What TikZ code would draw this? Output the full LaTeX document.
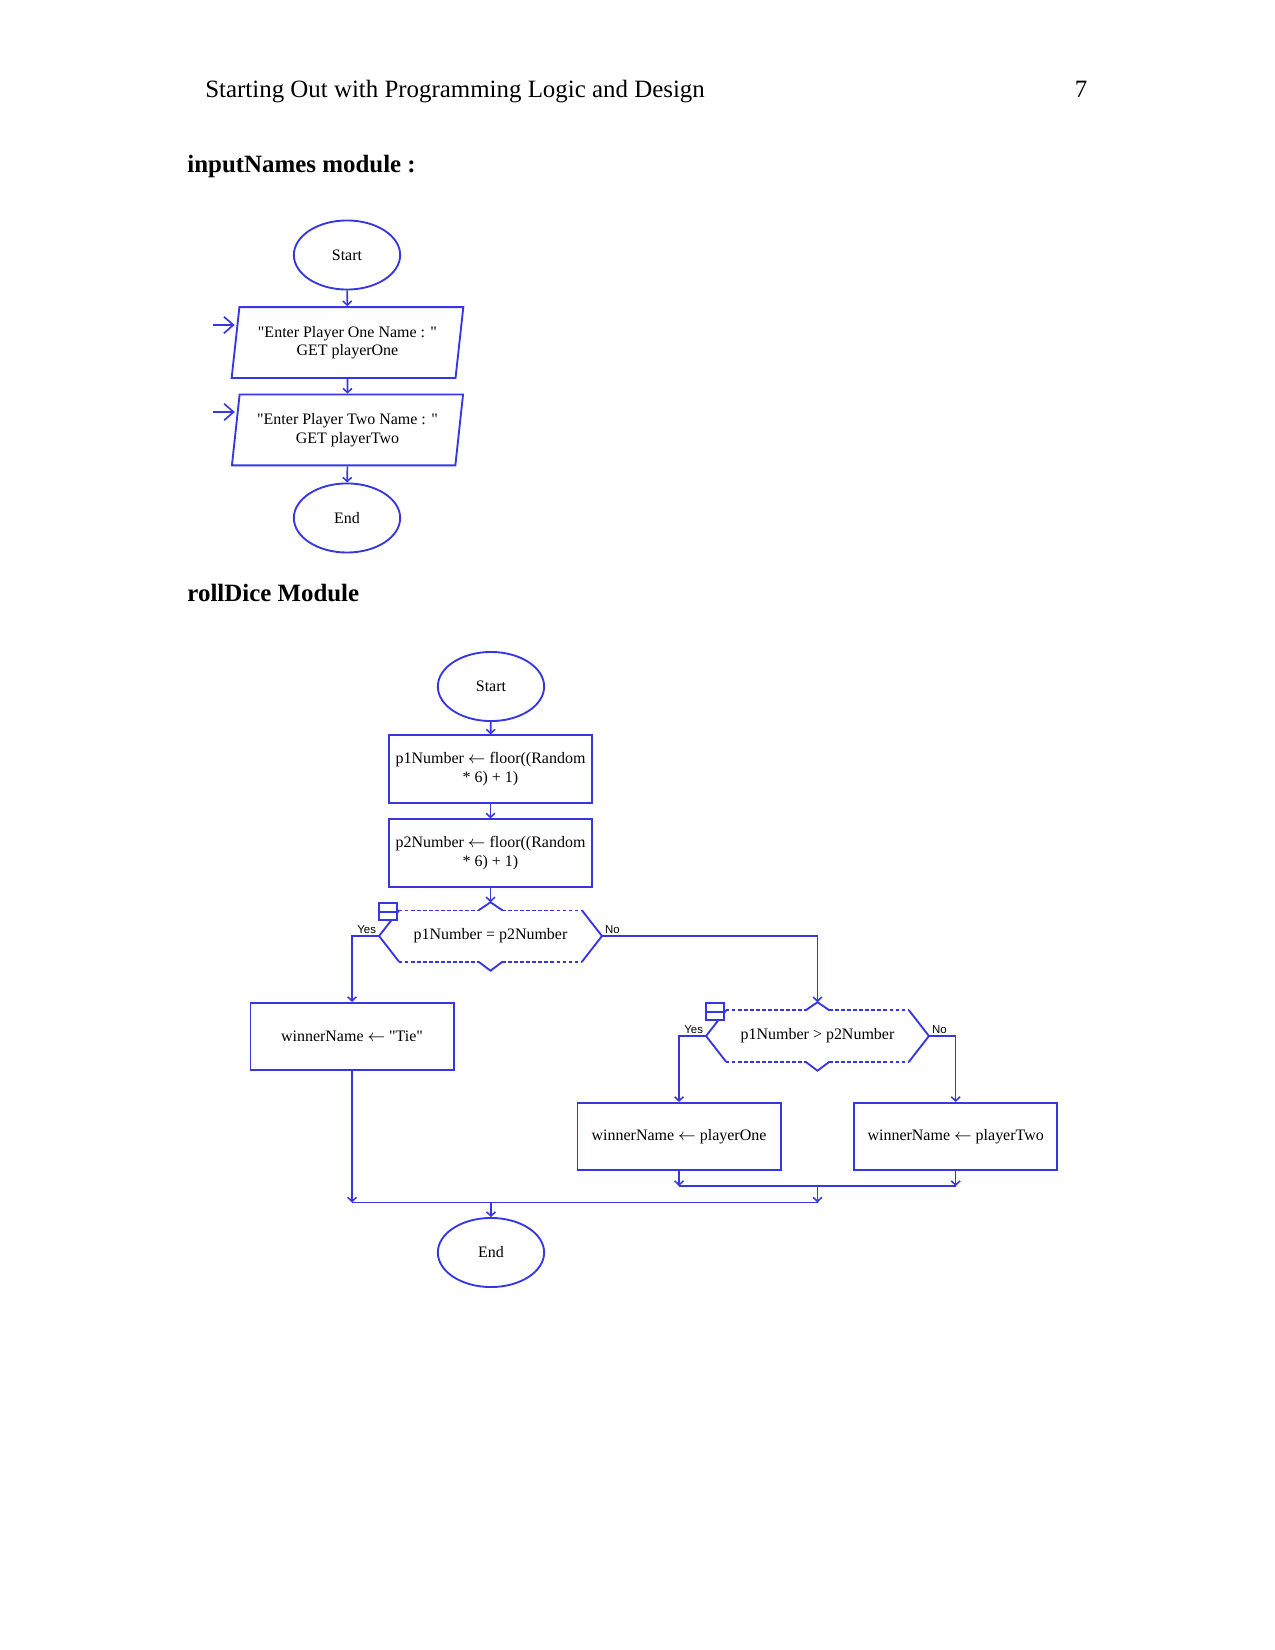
\documentclass[tikz,border=0pt]{standalone}
\usepackage{fontspec}
\setmainfont{Liberation Serif}
\newfontfamily\labelsans{Liberation Sans}
\usepackage{xcolor}
\usepackage{tikz}
\usetikzlibrary{arrows.meta,positioning,shapes.geometric}
\definecolor{flowblue}{RGB}{55,55,225}
\newcommand{\flowfont}{\fontsize{7.7}{9}\selectfont}
\newcommand{\ynfont}{\labelsans\fontsize{5.5}{6}\selectfont}
\newcommand{\pagefont}{\fontsize{12}{14}\selectfont}
\newcommand{\dq}{\textquotedbl}

\begin{document}
\begin{tikzpicture}[
  font=\flowfont,
  flow/.style={draw=flowblue, line width=0.9pt},
  term/.style={flow, ellipse, minimum width=1.8cm, minimum height=1.17cm, inner sep=0pt},
  io/.style={flow, trapezium, trapezium left angle=80, trapezium right angle=100, trapezium stretches=true, minimum width=3.95cm, minimum height=1.2cm, align=center, inner sep=1pt},
  proc/.style={flow, rectangle, minimum width=3.44cm, minimum height=1.14cm, align=center, inner sep=2pt},
  dec/.style={rectangle, minimum width=3.76cm, minimum height=0.86cm, inner sep=0pt},
  arr/.style={draw=flowblue, line width=0.75pt, -{Straight Barb[length=0.7mm,width=1.5mm]}},
  wire/.style={draw=flowblue, line width=0.75pt},
  entry/.style={draw=flowblue, line width=0.8pt, -{Straight Barb[length=1.6mm,width=2.8mm]}},
  yn/.style={font=\ynfont, inner sep=0.5pt},
  pagetext/.style={font=\pagefont, inner sep=0pt},
]
\useasboundingbox (0,0) rectangle (21.59,-27.94);

\node[pagetext, anchor=base west] (title) at (3.47,-1.656) {Starting Out with Programming Logic and Design};
\node[pagetext, anchor=base east] (pageno) at (18.42,-1.656) {7};
\node[pagetext, anchor=base west, font=\pagefont\bfseries] (head1) at (3.167,-2.921) {inputNames module :};
\node[pagetext, anchor=base west, font=\pagefont\bfseries] (head2) at (3.167,-10.19) {rollDice Module};

\node[term] (start1) at (5.876,-4.318) {Start};
\node[io] (in1) at (5.884,-5.800) {\dq Enter Player One Name : \dq\\GET playerOne};
\node[io] (in2) at (5.884,-7.281) {\dq Enter Player Two Name : \dq\\GET playerTwo};
\node[term] (end1) at (5.876,-8.771) {End};
\coordinate (src1) at (3.615,-5.503);
\coordinate (src2) at (3.615,-6.977);
\draw[arr] (start1) -- (in1);
\draw[arr] (in1) -- (in2);
\draw[arr] (in2) -- (end1);
\draw[entry] (src1) -- (src1 -| in1.west);
\draw[entry] (src2) -- (src2 -| in2.west);

\node[term] (start2) at (8.314,-11.625) {Start};
\node[proc] (num1) at (8.306,-13.022) {p1Number $\leftarrow$ floor((Random\\* 6) + 1)};
\node[proc] (num2) at (8.306,-14.444) {p2Number $\leftarrow$ floor((Random\\* 6) + 1)};
\node[dec] (dec1) at (8.306,-15.850) {p1Number = p2Number};
\node[proc] (tie) at (5.961,-17.552) {winnerName $\leftarrow$ \dq Tie\dq};
\node[dec] (dec2) at (13.843,-17.543) {p1Number > p2Number};
\node[proc] (one) at (11.498,-19.245) {winnerName $\leftarrow$ playerOne};
\node[proc] (two) at (16.183,-19.245) {winnerName $\leftarrow$ playerTwo};
\node[term] (end2) at (8.314,-21.209) {End};

\foreach \d in {dec1,dec2}{
  \draw[flow] ([xshift=0.34cm]\d.north west) -- (\d.west) -- ([xshift=0.34cm]\d.south west)
              ([xshift=-0.34cm]\d.north east) -- (\d.east) -- ([xshift=-0.34cm]\d.south east);
  \draw[flow, line width=0.7pt, dash pattern=on 1.6pt off 1.3pt]
    ([xshift=0.34cm]\d.north west) -- ([xshift=-0.2cm]\d.north) ([xshift=0.2cm]\d.north) -- ([xshift=-0.34cm]\d.north east)
    ([xshift=0.34cm]\d.south west) -- ([xshift=-0.2cm]\d.south) ([xshift=0.2cm]\d.south) -- ([xshift=-0.34cm]\d.south east);
  \draw[flow] ([xshift=-0.2cm]\d.north) -- ([yshift=0.135cm]\d.north) -- ([xshift=0.2cm]\d.north)
              ([xshift=-0.2cm]\d.south) -- ([yshift=-0.15cm]\d.south) -- ([xshift=0.2cm]\d.south);
  \draw[flow, fill=white] ([yshift=0.12cm]\d.north west) rectangle ([xshift=0.3cm,yshift=-0.17cm]\d.north west);
  \draw[flow] ([yshift=-0.025cm]\d.north west) -- ([xshift=0.3cm,yshift=-0.025cm]\d.north west);
}
\coordinate (dec1top) at ([yshift=0.135cm]dec1.north);
\coordinate (dec2top) at ([yshift=0.135cm]dec2.north);

\node[yn, above left=0.5pt and 0.8pt of dec1.west] (yes1) {Yes};
\node[yn, above right=0.5pt and 0.8pt of dec1.east] (no1) {No};
\node[yn, above left=0.5pt and 0.8pt of dec2.west] (yes2) {Yes};
\node[yn, above right=0.5pt and 0.8pt of dec2.east] (no2) {No};

\coordinate (joinOne) at (11.498,-20.083);
\coordinate (joinTwo) at (16.183,-20.083);
\coordinate (joinMid) at (13.843,-20.083);
\coordinate (mainLeft) at (5.961,-20.362);
\coordinate (mainRight) at (13.843,-20.362);
\coordinate (mainMid) at (8.314,-20.362);

\draw[arr] (start2) -- (num1);
\draw[arr] (num1) -- (num2);
\draw[arr] (num2) -- (dec1top);
\draw[arr] (dec1.west) -| (tie.north);
\draw[arr] (dec1.east) -| (dec2top);
\draw[arr] (dec2.west) -| (one.north);
\draw[arr] (dec2.east) -| (two.north);
\draw[arr] (one.south) -- (joinOne);
\draw[arr] (two.south) -- (joinTwo);
\draw[wire] (joinOne) -- (joinTwo);
\draw[arr] (joinMid) -- (mainRight);
\draw[arr] (tie.south) -- (mainLeft);
\draw[wire] (mainLeft) -- (mainRight);
\draw[arr] (mainMid) -- (end2.north);
\end{tikzpicture}
\end{document}
